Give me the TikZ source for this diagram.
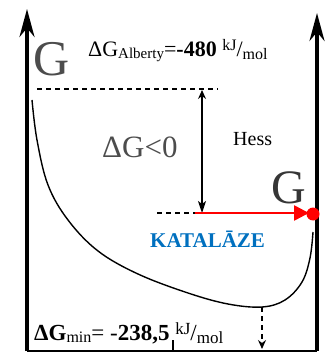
\documentclass[tikz,border=0pt]{standalone}
\usepackage{fontspec}
\setmainfont{Liberation Serif}
\usetikzlibrary{arrows.meta}
\definecolor{gtext}{rgb}{0.30,0.30,0.30}
\definecolor{kblue}{rgb}{0.0,0.44,0.75}
\begin{document}
\begin{tikzpicture}[x=1pt,y=-1pt,
  axis/.style={line width=3.6pt,-{Stealth[length=28pt,width=15pt,inset=9pt]}},
  small/.style={line width=1.2pt},
  dsh/.style={line width=1.3pt,dash pattern=on 5pt off 4pt},
  txt/.style={inner sep=0pt,anchor=base west}]
\useasboundingbox (0,0) rectangle (326,355);
% frame coordinates
\coordinate (lb) at (27,351);
\coordinate (lt) at (27,9);
\coordinate (rb) at (317,351);
\coordinate (rt) at (317,13);
\draw[line width=2pt] (lb) -- (rb);
\draw[axis] (lb) -- (lt);
\draw[axis] (rb) -- (rt);
% top dashed level
\coordinate (d1a) at (37,89);
\coordinate (d1b) at (218,89);
\draw[dsh] (d1a) -- (d1b);
% double arrow
\coordinate (va) at (202,90);
\coordinate (vb) at (202,213);
\draw[small,{Stealth[length=9pt,width=8pt,inset=3pt]}-{Stealth[length=12pt,width=8pt,inset=3pt]}] (va) -- (vb);
% dashed + red arrow
\coordinate (d2a) at (157,213);
\coordinate (d2b) at (195,213);
\coordinate (ra) at (195,213);
\coordinate (rbb) at (309,213);
\draw[dsh] (d2a) -- (d2b);
\draw[red,line width=2.6pt,-{Triangle[length=15pt,width=15pt]}] (ra) -- (rbb);
\node[circle,fill=red,inner sep=0pt,minimum size=13pt] (dot) at (313,214) {};
% curve
\draw[line width=1.4pt] plot[smooth,tension=0.6] coordinates {
 (32,100) (37,140) (48,185) (68,220) (98,251) (138,274) (188,293) (228,304) (262,307) (285,300) (302,282) (310,258) (313,232)};
% min dashed arrow
\coordinate (ma) at (262,307);
\coordinate (mb) at (262,349);
\draw[dsh,-{Stealth[length=9pt,width=8pt,inset=3pt]}] (ma) -- (mb);
\coordinate (ta) at (173,340);
\coordinate (tb) at (173,350);
\draw[line width=1.3pt] (ta) -- (tb);
% texts
\node[txt,text=gtext] (G1) at (33,76) {\fontsize{50}{50}\selectfont G};
\node[txt] (alb) at (88,57) {\fontsize{22}{22}\selectfont ΔG\raisebox{-2pt}{\fontsize{15}{15}\selectfont Alberty}=\textbf{-480} \raisebox{6pt}{\fontsize{16}{16}\selectfont kJ}/\raisebox{-3pt}{\fontsize{16}{16}\selectfont mol}};
\node[txt,text=gtext] (dg) at (102,158) {\fontsize{31}{31}\selectfont ΔG<0};
\node[txt] (hess) at (233,146) {\fontsize{20}{20}\selectfont Hess};
\node[txt,text=gtext!70!black] (G2) at (271,203) {\fontsize{48}{48}\selectfont G};
\node[txt,text=kblue] (kat) at (150,247) {\fontsize{21}{21}\selectfont\bfseries KATALĀZE};
\node[txt] (min) at (34,340) {\fontsize{23}{23}\selectfont\textbf{ΔG}\raisebox{-2pt}{\fontsize{16}{16}\selectfont min}= -\textbf{238,5} \raisebox{6pt}{\fontsize{17}{17}\selectfont kJ}/\raisebox{-3pt}{\fontsize{17}{17}\selectfont mol}};
\end{tikzpicture}
\end{document}
